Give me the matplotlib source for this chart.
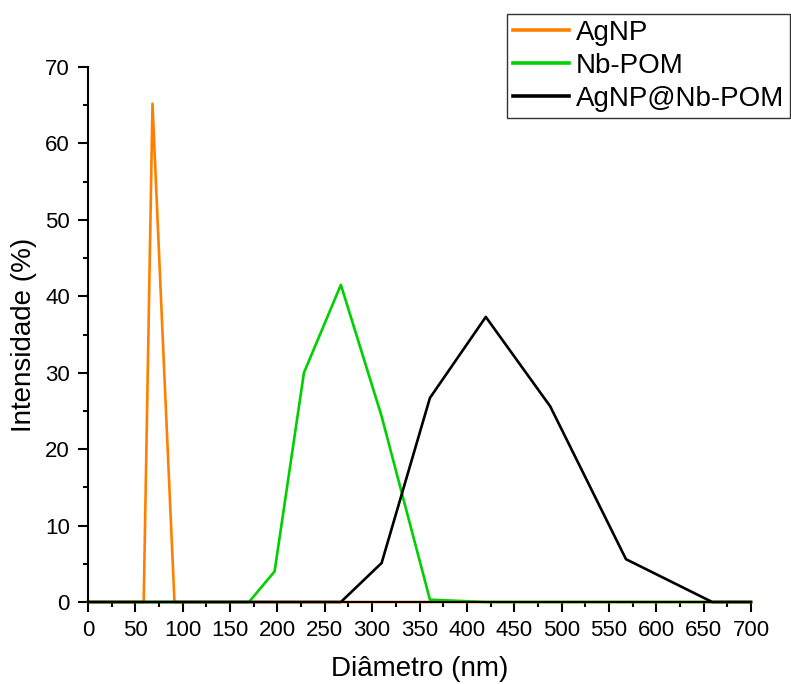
import matplotlib
matplotlib.use('Agg')
import matplotlib.pyplot as plt
from matplotlib.ticker import MultipleLocator

plt.rcParams['font.family'] = ['Liberation Sans', 'DejaVu Sans']

# size distributions (intensity %) per diameter bin
agnp_d = [0, 58.8, 68.1, 78.8, 91.3, 700]
agnp_i = [0, 0, 65.2, 34.8, 0, 0]

nbpom_d = [0, 170, 197, 228, 267, 310, 361, 420, 700]
nbpom_i = [0, 0, 4.0, 30.0, 41.5, 24.3, 0.3, 0, 0]

hybrid_d = [0, 267, 310, 361, 420, 488, 568, 659, 700]
hybrid_i = [0, 0, 5.1, 26.7, 37.3, 25.6, 5.6, 0, 0]

labels = ['AgNP', 'Nb-POM', 'AgNP@Nb-POM']
colors = ['#ff8000', '#00d000', '#000000']

fig = plt.figure(figsize=(7.91, 6.84), dpi=100)
ax = fig.add_axes([88 / 791, 82 / 684, 663 / 791, 535 / 684])

lines = []
for d, i, lab, c in zip([agnp_d, nbpom_d, hybrid_d], [agnp_i, nbpom_i, hybrid_i], labels, colors):
    ln, = ax.plot(d, i, color=c, lw=1.9, label=lab, clip_on=False)
    lines.append(ln)

ax.set_xlim(0, 700)
ax.set_ylim(0, 70)
ax.xaxis.set_major_locator(MultipleLocator(50))
ax.xaxis.set_minor_locator(MultipleLocator(25))
ax.yaxis.set_major_locator(MultipleLocator(10))
ax.yaxis.set_minor_locator(MultipleLocator(5))

for s in ['top', 'right']:
    ax.spines[s].set_visible(False)
for s in ['left', 'bottom']:
    ax.spines[s].set_linewidth(1.5)

ax.tick_params(which='major', direction='out', length=7, width=1.5, labelsize=16, pad=6)
ax.tick_params(which='minor', direction='out', length=3.5, width=1.5)

ax.set_xlabel('Diâmetro (nm)', fontsize=20, labelpad=11)
ax.set_ylabel('Intensidade (%)', fontsize=20, labelpad=6)

leg = fig.legend(handles=lines, loc='upper right', bbox_to_anchor=(790 / 791, 1 - 14 / 684),
                 fontsize=20, frameon=True, fancybox=False, edgecolor='#333333',
                 framealpha=1, borderpad=0.22, borderaxespad=0, handlelength=2.0,
                 handletextpad=0.25, labelspacing=0.25)
leg.get_frame().set_linewidth(1.0)
for h in leg.legend_handles:
    h.set_linewidth(2.6)

fig.savefig('out.png', dpi=100)
